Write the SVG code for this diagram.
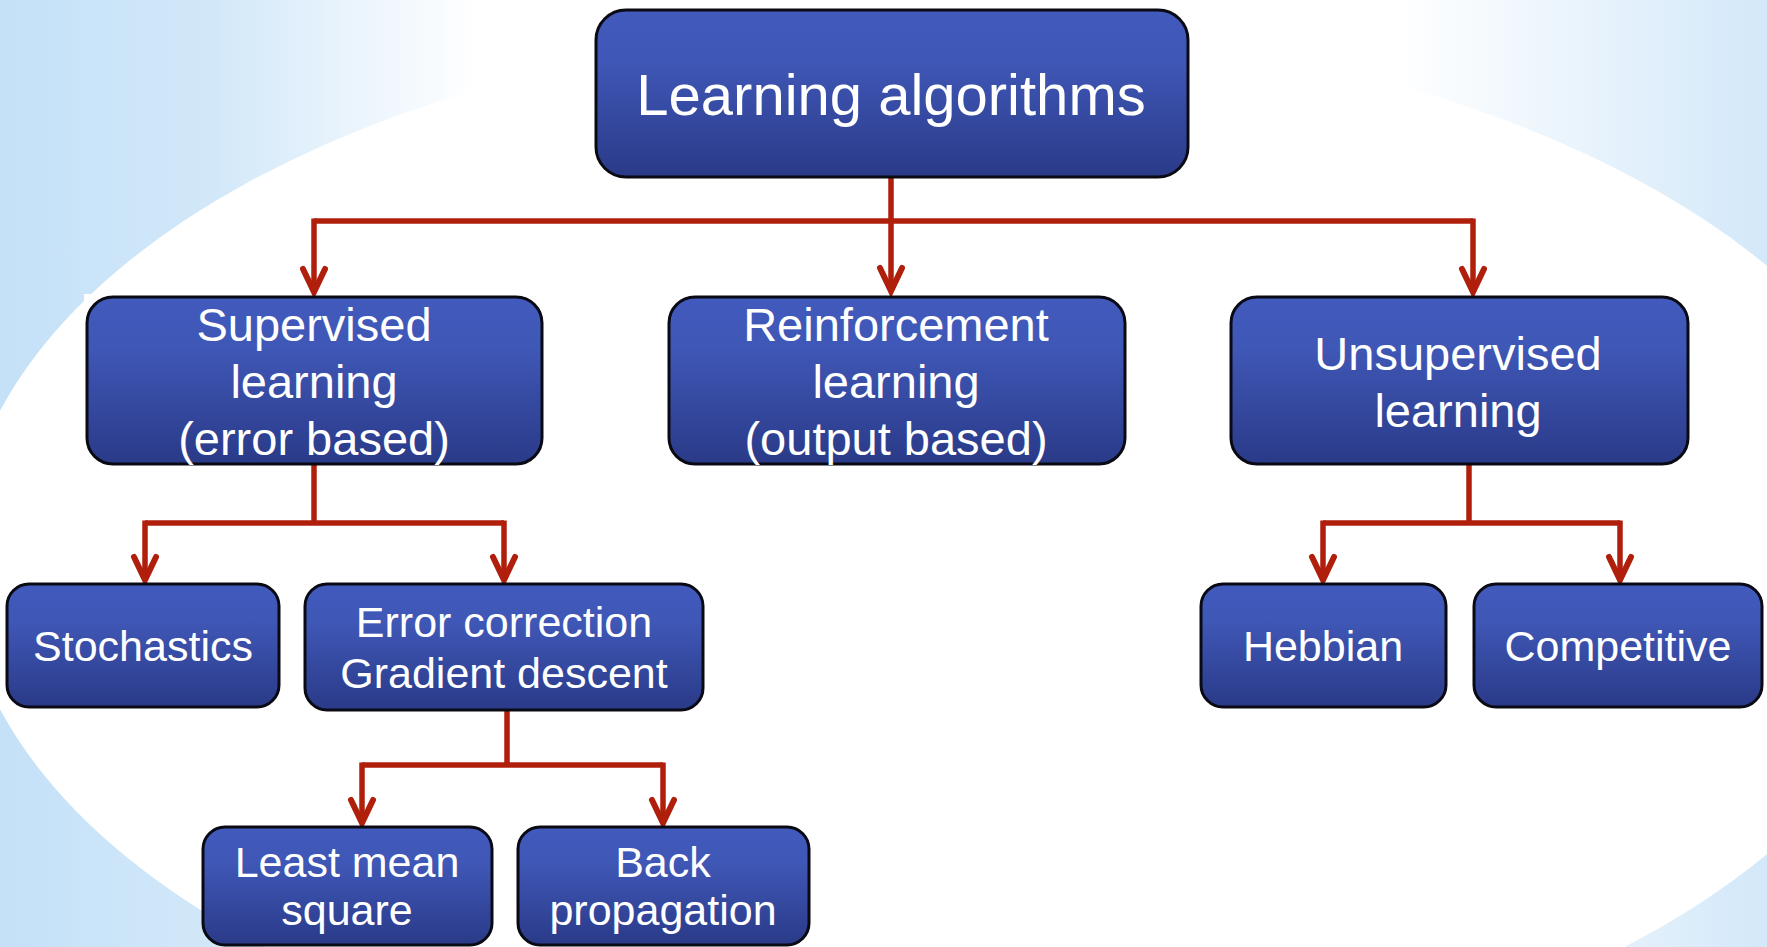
<svg xmlns="http://www.w3.org/2000/svg" width="1767" height="947" viewBox="0 0 1767 947">
<defs>
<linearGradient id="bg" x1="0" y1="0" x2="1" y2="0">
<stop offset="0" stop-color="#c4e1f8"/>
<stop offset="0.12" stop-color="#d2e8f9"/>
<stop offset="0.27" stop-color="#ffffff"/>
<stop offset="0.79" stop-color="#ffffff"/>
<stop offset="1" stop-color="#d3e8f9"/>
</linearGradient>
<linearGradient id="nodeFill" x1="0" y1="0" x2="0" y2="1">
<stop offset="0" stop-color="#415abc"/>
<stop offset="0.3" stop-color="#3f57b6"/>
<stop offset="1" stop-color="#2a3a88"/>
</linearGradient>
<marker id="arrow" markerUnits="userSpaceOnUse" markerWidth="40" markerHeight="40" refX="0" refY="0" viewBox="-30 -20 40 40" orient="auto" overflow="visible">
<path d="M-23,-11 L0,0 L-23,11" fill="none" stroke="#b01f0c" stroke-width="6" stroke-linecap="round" stroke-linejoin="miter"/>
</marker>
</defs>
<style>
.node rect{fill:url(#nodeFill);stroke:#0a0a14;stroke-width:3}
.node text{fill:#ffffff;font-family:"Liberation Sans","DejaVu Sans",sans-serif;text-anchor:middle}
.t1{font-size:58px}
.t2{font-size:47px}
.t3{font-size:43px}
.conn{fill:none;stroke:#b01f0c;stroke-width:5.5}
</style>
<rect x="0" y="0" width="1767" height="947" fill="url(#bg)"/>
<ellipse cx="945" cy="560" rx="984" ry="535" fill="#ffffff"/>
<rect x="84" y="294" width="460" height="172" fill="#ffffff"/>
<rect x="0" y="582" width="282" height="127" fill="#ffffff"/>

<g id="connectors">
<path class="conn" d="M891,177 L891,291" marker-end="url(#arrow)"/>
<path class="conn" d="M314,221 L1473,221"/>
<path class="conn" d="M314,218.5 L314,292" marker-end="url(#arrow)"/>
<path class="conn" d="M1473,218.5 L1473,292" marker-end="url(#arrow)"/>
<path class="conn" d="M314,464 L314,523"/>
<path class="conn" d="M145,523 L504,523"/>
<path class="conn" d="M145,520.5 L145,580" marker-end="url(#arrow)"/>
<path class="conn" d="M504,520.5 L504,580" marker-end="url(#arrow)"/>
<path class="conn" d="M507,710 L507,765"/>
<path class="conn" d="M362,765 L663,765"/>
<path class="conn" d="M362,762.5 L362,823" marker-end="url(#arrow)"/>
<path class="conn" d="M663,762.5 L663,823" marker-end="url(#arrow)"/>
<path class="conn" d="M1469,464 L1469,523"/>
<path class="conn" d="M1323,523 L1620,523"/>
<path class="conn" d="M1323,520.5 L1323,580" marker-end="url(#arrow)"/>
<path class="conn" d="M1620,520.5 L1620,580" marker-end="url(#arrow)"/>
</g>

<g id="n-learning" class="node">
<rect x="596" y="10" width="592" height="167" rx="30"/>
<text class="t1" x="891" y="115">Learning algorithms</text>
</g>
<g id="n-supervised" class="node">
<rect x="87" y="297" width="455" height="167" rx="26"/>
<text class="t2" x="314" y="341">Supervised</text>
<text class="t2" x="314" y="398">learning</text>
<text class="t2" x="314" y="455">(error based)</text>
</g>
<g id="n-reinforcement" class="node">
<rect x="669" y="297" width="456" height="167" rx="26"/>
<text class="t2" x="896" y="341">Reinforcement</text>
<text class="t2" x="896" y="398">learning</text>
<text class="t2" x="896" y="455">(output based)</text>
</g>
<g id="n-unsupervised" class="node">
<rect x="1231" y="297" width="457" height="167" rx="26"/>
<text class="t2" x="1458" y="370">Unsupervised</text>
<text class="t2" x="1458" y="427">learning</text>
</g>
<g id="n-stochastics" class="node">
<rect x="7" y="584" width="272" height="123" rx="22"/>
<text class="t3" x="143" y="661">Stochastics</text>
</g>
<g id="n-errorcorrection" class="node">
<rect x="305" y="584" width="398" height="126" rx="22"/>
<text class="t3" x="504" y="637">Error correction</text>
<text class="t3" x="504" y="688">Gradient descent</text>
</g>
<g id="n-hebbian" class="node">
<rect x="1201" y="584" width="245" height="123" rx="22"/>
<text class="t3" x="1323" y="661">Hebbian</text>
</g>
<g id="n-competitive" class="node">
<rect x="1474" y="584" width="288" height="123" rx="22"/>
<text class="t3" x="1618" y="661">Competitive</text>
</g>
<g id="n-lms" class="node">
<rect x="203" y="827" width="289" height="118" rx="22"/>
<text class="t3" x="347" y="877">Least mean</text>
<text class="t3" x="347" y="925">square</text>
</g>
<g id="n-backprop" class="node">
<rect x="518" y="827" width="291" height="118" rx="22"/>
<text class="t3" x="663" y="877">Back</text>
<text class="t3" x="663" y="925">propagation</text>
</g>
</svg>
